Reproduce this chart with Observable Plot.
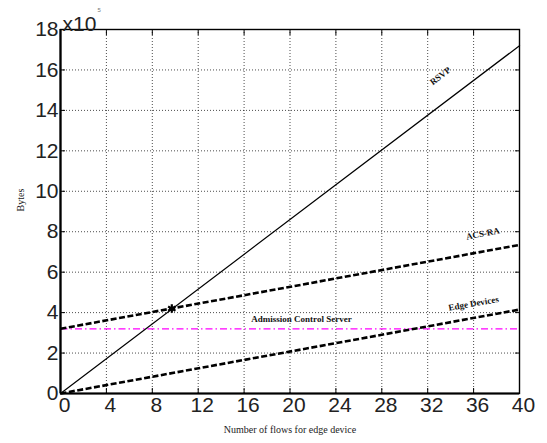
<!DOCTYPE html>
<html><head><meta charset="utf-8">
<script src="https://cdn.jsdelivr.net/npm/d3@7"></script>
<script src="https://cdn.jsdelivr.net/npm/@observablehq/plot@0.6"></script>
<style>body{margin:0;background:#fff} svg{overflow:visible}</style>
</head><body><div id="chart"></div>
<script>
const flows = [0, 40];
const rsvp = [0, 17.2];
const acsRa = [3.2, 7.35];
const edgeDevices = [0, 4.15];
const acsServer = [3.2, 3.2];
const xTicks = [0, 4, 8, 12, 16, 20, 24, 28, 32, 36, 40];
const yTicks = [0, 2, 4, 6, 8, 10, 12, 14, 16, 18];
const crossX = [9.7];
const crossY = [4.2];
const labelNames = ["RSVP", "ACS-RA", "Edge Devices", "Admission Control Server"];
const labelX = [33.1, 36.8, 36.0, 21.0];
const labelY = [15.7, 7.9, 4.45, 3.66];
const labelRot = [-37, -11, -10, 0];

const row = (ys, name) => flows.map((x, i) => ({x, y: ys[i], name}));
const rsvpData = row(rsvp, "RSVP");
const acsData = row(acsRa, "ACS-RA");
const edgeData = row(edgeDevices, "Edge Devices");
const serverData = row(acsServer, "Admission Control Server");
const labels = labelNames.map((t, i) => ({t, x: labelX[i], y: labelY[i], r: labelRot[i]}));

const tickFont = {fontSize: 21, fontFamily: "Liberation Sans, Arial, sans-serif", fill: "#222"};

const chart = Plot.plot({
  width: 547, height: 443,
  marginLeft: 60, marginRight: 28, marginTop: 29, marginBottom: 50,
  x: {domain: [0, 40]},
  y: {domain: [0, 18]},
  style: {background: "#fff", overflow: "visible"},
  marks: [
    Plot.gridX(xTicks, {stroke: "#000", strokeOpacity: 0.7, strokeDasharray: "1,2"}),
    Plot.gridY(yTicks, {stroke: "#000", strokeOpacity: 0.7, strokeDasharray: "1,2"}),
    Plot.line(serverData, {x: "x", y: "y", stroke: "#ff00ff", strokeWidth: 1.2, strokeLinecap: "butt", strokeDasharray: "7,3,1.5,3"}),
    Plot.line(rsvpData, {x: "x", y: "y", stroke: "#000", strokeWidth: 1.2}),
    Plot.line(acsData, {x: "x", y: "y", stroke: "#000", strokeWidth: 2.6, strokeLinecap: "butt", strokeDasharray: "6,2.5"}),
    Plot.line(edgeData, {x: "x", y: "y", stroke: "#000", strokeWidth: 2.6, strokeLinecap: "butt", strokeDasharray: "6,2.5"}),
    Plot.dot(crossX.map((x, i) => ({x, y: crossY[i]})), {x: "x", y: "y", symbol: "asterisk", r: 4, stroke: "#000", strokeWidth: 2.2}),
    Plot.text(labels, {x: "x", y: "y", text: "t", rotate: "r", fontSize: 9, fontWeight: "bold", fontFamily: "Liberation Serif, Times New Roman, serif", fill: "#111"}),
    Plot.axisX(xTicks, {anchor: "bottom", tickSize: 0, tickPadding: 4, dx: 4, ...tickFont, style: "letter-spacing:-2.5px", label: null}),
    Plot.axisY(yTicks, {anchor: "left", tickSize: 0, tickPadding: 2, ...tickFont, style: "letter-spacing:-2.5px", label: null}),
    Plot.axisX(xTicks, {anchor: "bottom", tickSize: -5, text: null, label: null, stroke: "#000"}),
    Plot.axisX(xTicks, {anchor: "top", tickSize: -5, text: null, label: null, stroke: "#000"}),
    Plot.axisY(yTicks, {anchor: "left", tickSize: -5, text: null, label: null, stroke: "#000"}),
    Plot.axisY(yTicks, {anchor: "right", tickSize: -5, text: null, label: null, stroke: "#000"}),
    Plot.frame({stroke: "#000", strokeWidth: 1.4}),
    Plot.ruleX([0], {stroke: "#000", strokeWidth: 2.2}),
    Plot.ruleY([0], {stroke: "#000", strokeWidth: 2.2}),
    Plot.text(["Bytes"], {frameAnchor: "left", dx: -40, rotate: -90, fontSize: 10, fontFamily: "Liberation Serif, Times New Roman, serif", fill: "#222"}),
    Plot.text(["Number of flows for edge device"], {frameAnchor: "bottom", dy: 39, fontSize: 10, fontFamily: "Liberation Serif, Times New Roman, serif", fill: "#222"}),
    Plot.text(["x10"], {frameAnchor: "top-left", textAnchor: "start", dx: 2, dy: -13, fontSize: 21, fontFamily: "Liberation Sans, Arial, sans-serif", fill: "#222", style: "letter-spacing:-2.5px"}),
    Plot.text(["5"], {frameAnchor: "top-left", textAnchor: "start", dx: 37, dy: -22, fontSize: 6, fontFamily: "Liberation Sans, Arial, sans-serif", fill: "#777"})
  ]
});
document.getElementById("chart").appendChild(chart);
</script>
</body></html>
